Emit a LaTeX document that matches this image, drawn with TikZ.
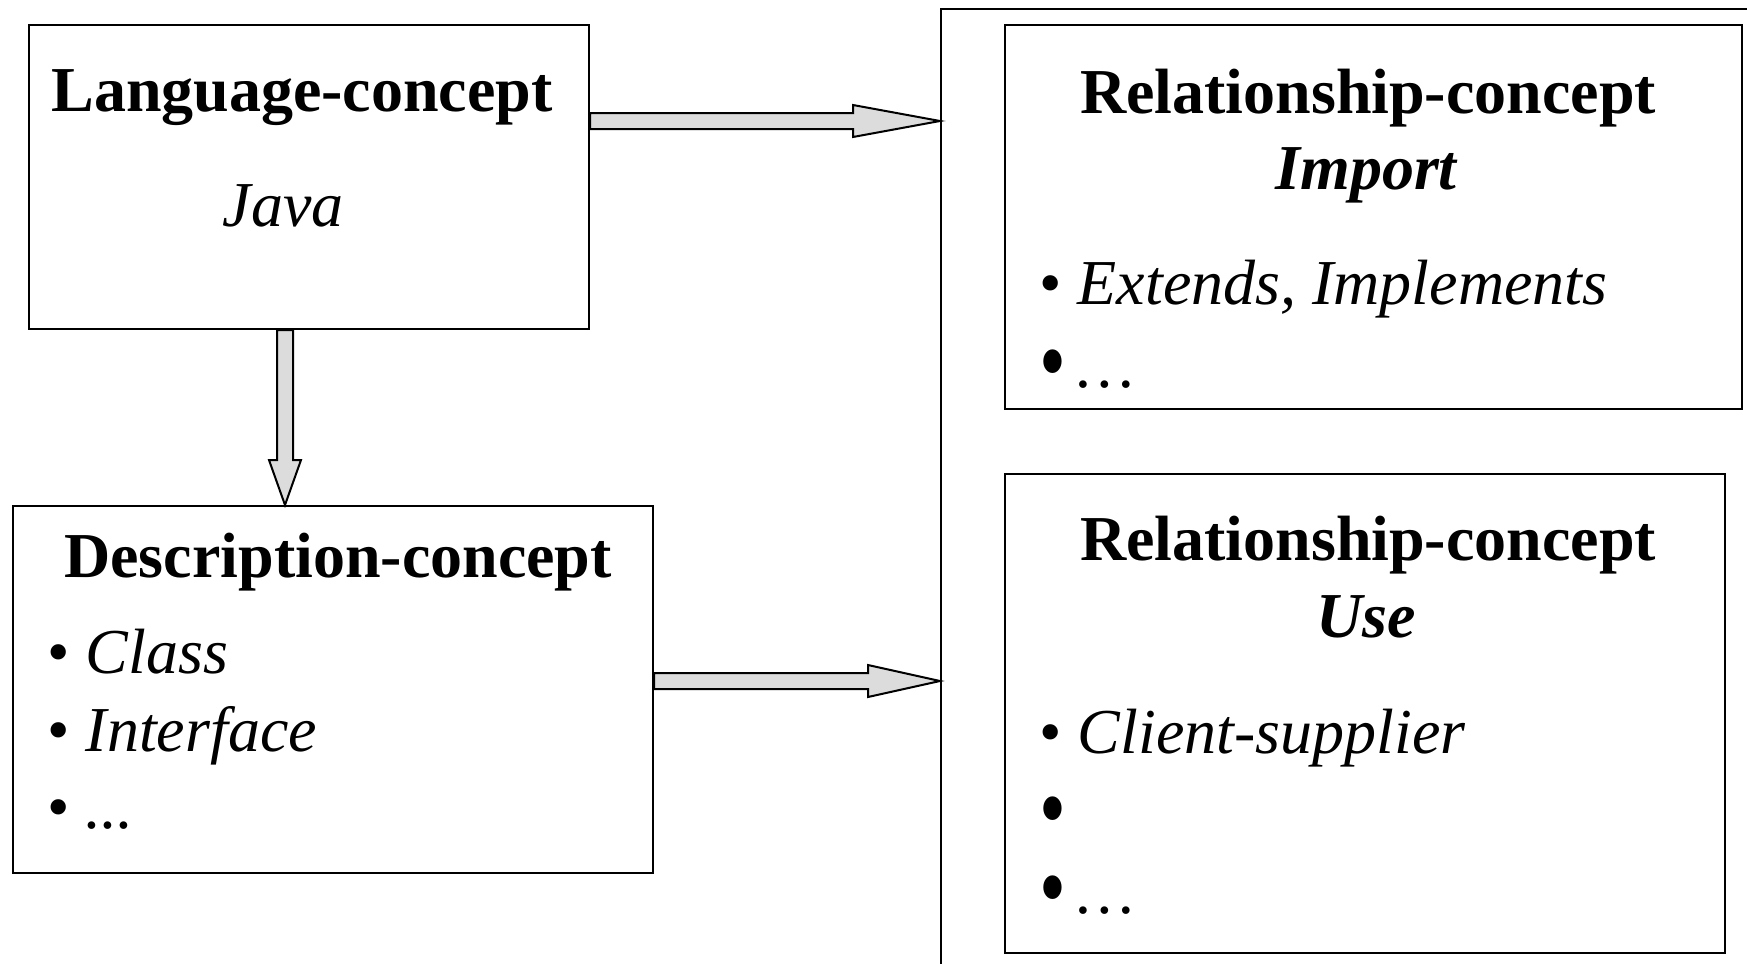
\documentclass[tikz,border=0pt]{standalone}
\usepackage{fontspec}
\setmainfont{Liberation Serif}
\usetikzlibrary{calc,fit}
\definecolor{arrowfill}{HTML}{DCDCDC}
% larger, taller bullet used in some of the lists
\newcommand{\bigbul}{\makebox[0.35em][l]{\raisebox{-0.12em}{\scalebox{1.2}[1.55]{•}}}}
\begin{document}
\begin{tikzpicture}[x=0.5pt,y=-0.5pt,
  frame/.style={draw=black, line width=1pt, inner sep=0pt, fit={#1}},
  txt/.style={inner sep=0pt, font=\fontsize{32}{38}\selectfont},
  head/.style={txt, font=\fontsize{32}{38}\selectfont\bfseries},
  fat/.style={draw=black, line width=1pt, fill=arrowfill, line join=miter}]
\useasboundingbox (0,0) rectangle (1747,964);
\clip (0,0) rectangle (1747,964);

% boxes
\coordinate (l1) at (29,25);   \coordinate (l2) at (589,329);
\node[frame={(l1)(l2)}] (lang) {};
\coordinate (d1) at (13,506);  \coordinate (d2) at (653,873);
\node[frame={(d1)(d2)}] (desc) {};
\coordinate (b1) at (941,9);   \coordinate (b2) at (1790,1010);
\node[frame={(b1)(b2)}] (rel) {};
\coordinate (i1) at (1005,25); \coordinate (i2) at (1742,409);
\node[frame={(i1)(i2)}] (imp) {};
\coordinate (u1) at (1005,474); \coordinate (u2) at (1725,953);
\node[frame={(u1)(u2)}] (use) {};

% language concept
\node[head, anchor=base] (langT) at (302,111) {Language-concept};
\node[txt, anchor=base] (langJ) at (283,226) {\itshape Java};

% description concept
\node[head, anchor=base] (descT) at (338,577) {Description-concept};
\node[txt, anchor=base west] (descA) at (47,673) {•\ \textit{Class}};
\node[txt, anchor=base west] (descB) at (47,751) {•\ \textit{Interface}};
\node[txt, anchor=base west] (descC) at (47,828) {•\ \textit{...}};

% relationship concept: import
\node[head, anchor=base] (impT) at (1368,113) {Relationship-concept};
\node[head, anchor=base] (impS) at (1366,189) {\itshape Import};
\node[txt, anchor=base west] (impA) at (1039,304) {•\ \textit{Extends, Implements}};
\node[txt, anchor=base west] (impB) at (1039,387) {\bigbul\ \textit{…}};

% relationship concept: use
\node[head, anchor=base] (useT) at (1368,560) {Relationship-concept};
\node[head, anchor=base] (useS) at (1366,637) {\itshape Use};
\node[txt, anchor=base west] (useA) at (1039,753) {•\ \textit{Client-supplier}};
\node[txt, anchor=base west] (useB) at (1039,834) {\bigbul};
\node[txt, anchor=base west] (useC) at (1039,913) {\bigbul\ \textit{…}};

% block arrows
\coordinate (y1) at (0,121);
\coordinate (s1) at (lang.east |- y1);
\coordinate (t1) at (rel.west |- y1);
\draw[fat] ($(s1)+(0,-8)$) -- ($(t1)+(-87,-8)$) -- ($(t1)+(-87,-16)$) -- (t1)
  -- ($(t1)+(-87,16)$) -- ($(t1)+(-87,8)$) -- ($(s1)+(0,8)$) -- cycle;

\coordinate (x2) at (285,0);
\coordinate (s2) at (lang.south -| x2);
\coordinate (t2) at (desc.north -| x2);
\draw[fat] ($(s2)+(-8,0)$) -- ($(t2)+(-8,-45)$) -- ($(t2)+(-16,-45)$) -- (t2)
  -- ($(t2)+(16,-45)$) -- ($(t2)+(8,-45)$) -- ($(s2)+(8,0)$) -- cycle;

\coordinate (y3) at (0,681);
\coordinate (s3) at (desc.east |- y3);
\coordinate (t3) at (rel.west |- y3);
\draw[fat] ($(s3)+(0,-8)$) -- ($(t3)+(-72,-8)$) -- ($(t3)+(-72,-16)$) -- (t3)
  -- ($(t3)+(-72,16)$) -- ($(t3)+(-72,8)$) -- ($(s3)+(0,8)$) -- cycle;
\end{tikzpicture}
\end{document}
